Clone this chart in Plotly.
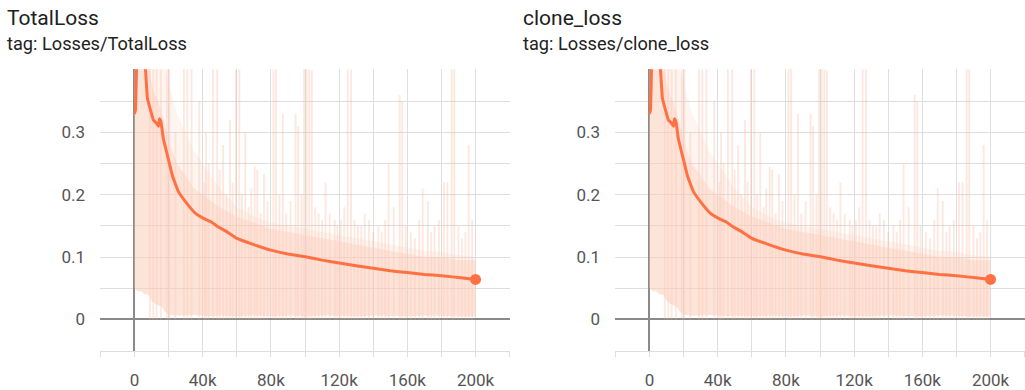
import plotly.graph_objects as go

# ---- data ----
smooth_steps = [0, 600, 1200, 2000, 3000, 4000, 5000, 6500, 7600, 9400, 11100, 12900, 14100,
                14700, 15500, 17000, 19900, 22300, 25800, 29900, 35800, 40500, 44600, 48700,
                53400, 60000, 70000, 80000, 90000, 101000, 110000, 121000, 130000, 140000,
                150000, 160000, 170000, 180000, 190000, 200000]
smooth_vals = [0.33, 0.336, 0.40, 0.44, 0.45, 0.45, 0.44, 0.40, 0.355, 0.336, 0.32, 0.315, 0.31,
               0.322, 0.318, 0.289, 0.257, 0.23, 0.205, 0.189, 0.17, 0.162, 0.157, 0.149,
               0.142, 0.13, 0.12, 0.111, 0.105, 0.10, 0.095, 0.09, 0.086, 0.082,
               0.078, 0.075, 0.072, 0.07, 0.067, 0.064]

band_steps = [0, 2000, 4000, 6000, 8000, 10000, 12000, 14000, 16000, 18000, 20000, 22000, 25000,
              30000, 35000, 40000, 45000, 50000, 60000, 70000, 80000, 90000, 100000, 110000,
              120000, 130000, 140000, 150000, 160000, 170000, 180000, 190000, 200000]
band_low = [0.05, 0.045, 0.045, 0.04, 0.04, 0.03, 0.025, 0.022, 0.02, 0.012, 0.008, 0.007, 0.006,
            0.006, 0.007, 0.006, 0.005, 0.006, 0.005, 0.006, 0.005, 0.006, 0.005, 0.006,
            0.005, 0.005, 0.006, 0.005, 0.005, 0.006, 0.005, 0.005, 0.005]
band_high = [0.42, 0.42, 0.42, 0.42, 0.42, 0.38, 0.36, 0.35, 0.33, 0.31, 0.29, 0.27, 0.25,
             0.23, 0.21, 0.20, 0.19, 0.18, 0.165, 0.155, 0.145, 0.14, 0.135, 0.13,
             0.125, 0.12, 0.115, 0.11, 0.105, 0.10, 0.10, 0.095, 0.095]
haze_high = [0.42, 0.42, 0.42, 0.42, 0.42, 0.42, 0.42, 0.42, 0.42, 0.40, 0.38, 0.36, 0.33,
             0.30, 0.27, 0.25, 0.23, 0.21, 0.18, 0.165, 0.155, 0.15, 0.145, 0.14,
             0.135, 0.13, 0.125, 0.12, 0.115, 0.11, 0.108, 0.103, 0.10]

spike_steps = [9000, 11000, 13000, 15500, 19000, 20500, 24000, 29000, 31000, 33500, 38000,
               41000, 42000, 43500, 46000, 48500, 50000, 52000, 54000, 56000, 57500, 59500,
               61500, 63000, 65000, 67000, 68500, 70500, 72000, 74000, 76000, 78000,
               81500, 83000, 85000, 87000, 89000, 91500, 94500, 96000, 98000, 99500,
               101000, 102500, 104000, 106000, 108000, 110000, 112000, 114500, 117500,
               119000, 121000, 123000, 125000, 127000, 129000, 131000, 133000, 135000,
               137500, 140000, 143000, 145000, 147000, 149000, 152000, 155500, 157000,
               159000, 162000, 164500, 167000, 169000, 172000, 174000, 176000, 178500,
               181500, 183500, 186000, 187500, 190000, 192000, 194000, 196000, 198000]
spike_vals = [0.45, 0.45, 0.45, 0.45, 0.45, 0.42, 0.30, 0.45, 0.45, 0.45, 0.35,
              0.22, 0.30, 0.25, 0.45, 0.45, 0.24, 0.28, 0.20, 0.32, 0.22, 0.45,
              0.45, 0.20, 0.30, 0.18, 0.21, 0.245, 0.24, 0.17, 0.233, 0.19,
              0.45, 0.42, 0.20, 0.33, 0.17, 0.19, 0.33, 0.31, 0.20, 0.45,
              0.45, 0.45, 0.40, 0.18, 0.17, 0.16, 0.22, 0.17, 0.16,
              0.15, 0.16, 0.18, 0.45, 0.43, 0.16, 0.15, 0.15, 0.17,
              0.16, 0.14, 0.15, 0.14, 0.16, 0.25, 0.18, 0.36, 0.35,
              0.15, 0.14, 0.13, 0.16, 0.21, 0.19, 0.14, 0.15, 0.16,
              0.22, 0.22, 0.45, 0.45, 0.15, 0.13, 0.14, 0.28, 0.16]

x_tick_vals = [0, 40000, 80000, 120000, 160000, 200000]
x_tick_text = ["0", "40k", "80k", "120k", "160k", "200k"]
x_minor_vals = [-20000, 20000, 60000, 100000, 140000, 180000, 220000]
y_tick_vals = [0, 0.1, 0.2, 0.3]
y_tick_text = ["0", "0.1", "0.2", "0.3"]
y_minor_vals = [-0.05, 0.05, 0.15, 0.25, 0.35, 0.4]

titles = ["TotalLoss", "clone_loss"]
tags = ["tag: Losses/TotalLoss", "tag: Losses/clone_loss"]

# ---- styling ----
W, H = 1025, 390
ORANGE = "#ff7043"
FONT = "Roboto"
x_domains = [[100 / W, 510 / W], [615 / W, 1.0]]
y_domain = [35 / H, 320 / H]
title_x = [5 / W, 521 / W]

fig = go.Figure()
for i in range(2):
    xa = "x" if i == 0 else "x2"
    ya = "y" if i == 0 else "y2"
    fig.add_trace(go.Bar(x=spike_steps, y=spike_vals, width=1100, xaxis=xa, yaxis=ya,
                         marker=dict(color="rgba(250,185,155,0.32)", line=dict(width=0)),
                         hoverinfo="skip", showlegend=False))
    fig.add_trace(go.Scatter(x=band_steps, y=band_low, mode="lines", line=dict(width=0),
                             xaxis=xa, yaxis=ya, hoverinfo="skip", showlegend=False))
    fig.add_trace(go.Scatter(x=band_steps, y=haze_high, mode="lines", line=dict(width=0),
                             fill="tonexty", fillcolor="rgba(252,205,185,0.22)",
                             xaxis=xa, yaxis=ya, hoverinfo="skip", showlegend=False))
    fig.add_trace(go.Scatter(x=band_steps, y=band_low, mode="lines", line=dict(width=0),
                             xaxis=xa, yaxis=ya, hoverinfo="skip", showlegend=False))
    fig.add_trace(go.Scatter(x=band_steps, y=band_high, mode="lines", line=dict(width=0),
                             fill="tonexty", fillcolor="rgba(252,205,185,0.42)",
                             xaxis=xa, yaxis=ya, hoverinfo="skip", showlegend=False))
    fig.add_trace(go.Scatter(x=smooth_steps, y=smooth_vals, mode="lines",
                             line=dict(color=ORANGE, width=3, shape="spline", smoothing=0.3),
                             xaxis=xa, yaxis=ya, showlegend=False))
    fig.add_trace(go.Scatter(x=[smooth_steps[-1]], y=[smooth_vals[-1]], mode="markers",
                             marker=dict(color=ORANGE, size=11), xaxis=xa, yaxis=ya,
                             showlegend=False))

axis_common_x = dict(
    range=[-20200, 220200], tickmode="array", tickvals=x_tick_vals, ticktext=x_tick_text,
    showgrid=True, gridcolor="#dedede", gridwidth=1,
    zeroline=True, zerolinecolor="#8a8a8a", zerolinewidth=1.5,
    showline=True, linecolor="#dedede", linewidth=1,
    ticks="outside", ticklen=5, tickcolor="#dedede",
    tickfont=dict(family=FONT, size=17, color="#555555"), ticklabelstandoff=8,
    minor=dict(tickmode="array", tickvals=x_minor_vals, showgrid=True, gridcolor="#dedede",
               ticks="outside", ticklen=5, tickcolor="#dedede"),
    fixedrange=True,
)
axis_common_y = dict(
    range=[-0.0515, 0.4015], tickmode="array", tickvals=y_tick_vals, ticktext=y_tick_text,
    showgrid=True, gridcolor="#dedede", gridwidth=1,
    zeroline=True, zerolinecolor="#8a8a8a", zerolinewidth=1.5,
    showline=False, ticks="", ticklabelstandoff=14,
    tickfont=dict(family=FONT, size=17, color="#555555"),
    minor=dict(tickmode="array", tickvals=y_minor_vals, showgrid=True, gridcolor="#dedede"),
    fixedrange=True,
)

fig.update_layout(
    width=W, height=H, margin=dict(l=0, r=0, t=0, b=0),
    paper_bgcolor="white", plot_bgcolor="white", barmode="overlay",
    font=dict(family=FONT),
    xaxis=dict(domain=x_domains[0], anchor="y", **axis_common_x),
    yaxis=dict(domain=y_domain, anchor="x", **axis_common_y),
    xaxis2=dict(domain=x_domains[1], anchor="y2", **axis_common_x),
    yaxis2=dict(domain=y_domain, anchor="x2", **axis_common_y),
)

annotations = []
for i in range(2):
    annotations.append(dict(text=titles[i], x=title_x[i], y=1 - 18 / H, xref="paper",
                            yref="paper", xanchor="left", yanchor="middle", showarrow=False,
                            font=dict(family=FONT, size=21, color="#212121")))
    annotations.append(dict(text=tags[i], x=title_x[i], y=1 - 44 / H, xref="paper",
                            yref="paper", xanchor="left", yanchor="middle", showarrow=False,
                            font=dict(family=FONT, size=18.2, color="#212121")))
fig.update_layout(annotations=annotations)

fig.write_html("out.html", config={"displayModeBar": False})
